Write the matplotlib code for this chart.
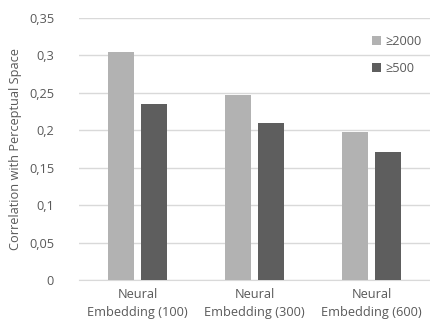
import numpy as np
import matplotlib.pyplot as plt

categories = ["Neural\nEmbedding (100)", "Neural\nEmbedding (300)", "Neural\nEmbedding (600)"]
series_names = ["\u22652000", "\u2265500"]
vals_2000 = [0.305, 0.247, 0.198]
vals_500 = [0.235, 0.210, 0.171]
yticks = [0, 0.05, 0.1, 0.15, 0.2, 0.25, 0.3, 0.35]
ytick_labels = ["0", "0,05", "0,1", "0,15", "0,2", "0,25", "0,3", "0,35"]

plt.rcParams['font.family'] = ['Open Sans', 'DejaVu Sans']
txt = '#595959'
fs = 9.2

fig = plt.figure(figsize=(4.30, 3.31), dpi=100)
ax = fig.add_axes([0.184, 0.154, 0.816, 0.792])

x = np.arange(len(categories))
w = 0.225
ax.bar(x - 0.141, vals_2000, w, color='#b2b2b2', label=series_names[0], zorder=3)
ax.bar(x + 0.141, vals_500, w, color='#5e5e5e', label=series_names[1], zorder=3)

ax.set_xlim(-0.5, 2.5)
ax.set_ylim(0, 0.35)
ax.set_yticks(yticks)
ax.set_yticklabels(ytick_labels)
ax.set_xticks(x)
ax.set_xticklabels(categories, linespacing=1.45)
ax.tick_params(length=0, colors=txt, labelsize=fs)
ax.tick_params(axis='y', pad=18)
ax.tick_params(axis='x', pad=6)
ax.grid(axis='y', color='#d9d9d9', linewidth=1, zorder=0)
for s in ['top', 'right', 'left']:
    ax.spines[s].set_visible(False)
ax.spines['bottom'].set_color('#d9d9d9')
ax.set_ylabel("Correlation with Perceptual Space", color=txt, fontsize=fs, labelpad=5)

ax.legend(loc='upper right', bbox_to_anchor=(1.01, 0.98), frameon=False,
          handlelength=0.7, handleheight=0.7, handletextpad=0.35,
          labelspacing=1.15, fontsize=fs, labelcolor=txt)

fig.savefig('out.png', dpi=100)
